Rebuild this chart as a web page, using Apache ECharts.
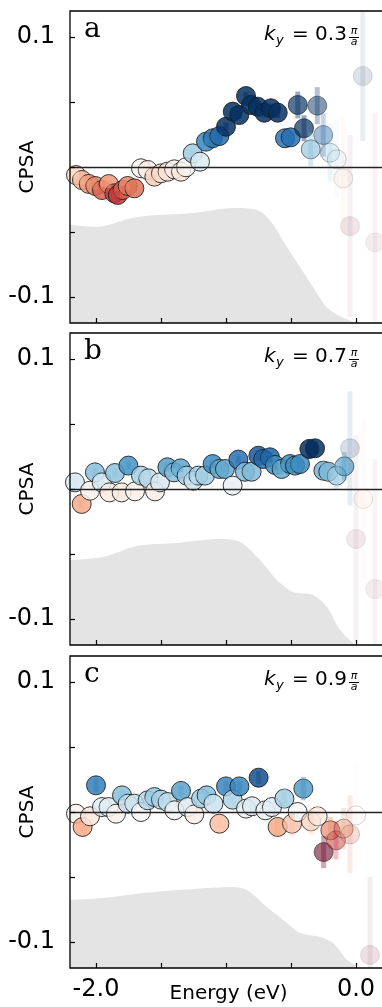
<!DOCTYPE html>
<html><head><meta charset="utf-8">
<script src="https://cdn.jsdelivr.net/npm/echarts@6/dist/echarts.min.js"></script>
<style>html,body{margin:0;padding:0;background:#fff;}#c{width:382px;height:1007px;}</style>
</head><body><div id="c"></div>
<script>
// ---- ticks / labels ----
const xTicks = [-2.0, -1.5, -1.0, -0.5, 0.0];
const xTickLabels = [-2.0, 0.0];
const yTicks = [-0.1, -0.05, 0, 0.05, 0.1];
const yTickLabels = [-0.1, 0.1];
const panelLetters = ['a', 'b', 'c'];
const kyValues = ['0.3', '0.7', '0.9'];

// ---- panel a ----
const energyA = [-2.154,-2.108,-2.056,-2.005,-1.954,-1.902,-1.859,-1.833,-1.795,-1.756,-1.705,
  -1.654,-1.602,-1.551,-1.5,-1.449,-1.398,-1.346,-1.308,
  -1.256,-1.2,-1.154,-1.102,-1.051,-1.0,-0.948,-0.898,-0.846,-0.808,-0.756,-0.705,-0.654,-0.602,
  -0.546,-0.502,-0.448,-0.4,-0.348,-0.298,-0.252,-0.2,-0.148,-0.098,-0.046,0.052,0.146];
const valueA = [-0.0062,-0.010,-0.013,-0.0146,-0.0177,-0.0131,-0.0202,-0.0215,-0.0177,-0.0146,-0.0164,
  -0.001,-0.0023,-0.0074,-0.0049,-0.0036,-0.0018,-0.0036,-0.0002,
  0.0105,0.0041,0.0195,0.0221,0.0238,0.031,0.0426,0.040,0.0546,0.0477,0.0464,0.0418,0.0452,0.0418,
  0.0221,0.0228,0.0477,0.0298,0.0136,0.0472,0.0246,0.011,0.0059,-0.0087,-0.0454,0.07,-0.058];
const errA = [0.003,0.003,0.003,0.003,0.003,0.003,0.003,0.003,0.003,0.003,0.003,
  0.003,0.003,0.003,0.003,0.003,0.003,0.003,0.003,
  0.003,0.003,0.003,0.003,0.003,0.003,0.003,0.003,0.003,0.003,0.003,0.0035,0.0035,0.004,
  0.005,0.005,0.0103,0.01,0.0128,0.0143,0.0167,0.022,0.03,0.046,0.07,0.05,0.1];
const dosEnergyA = [-2.2,-1.99,-1.685,-1.254,-0.946,-0.762,-0.662,-0.531,-0.431,-0.331,-0.223,-0.1,-0.023,0.0,0.24];
const dosValueA = [-0.0446,-0.046,-0.0385,-0.0354,-0.0315,-0.033,-0.041,-0.0615,-0.077,-0.0923,-0.108,-0.116,-0.119,-0.12,-0.12];

// ---- panel b ----
const energyB = [-2.162,-2.11,-2.046,-2.008,-1.956,-1.897,-1.854,-1.803,-1.751,-1.7,-1.654,-1.597,-1.546,-1.508,
  -1.451,-1.4,-1.349,-1.303,-1.251,-1.213,-1.162,-1.103,-1.051,-1.008,-0.949,-0.905,-0.854,-0.803,
  -0.751,-0.713,-0.662,-0.623,-0.572,-0.508,-0.469,-0.431,-0.359,-0.315,-0.251,-0.213,-0.149,-0.09,
  -0.046,0.056,0.0,0.146];
const valueB = [0.0051,-0.0115,-0.0013,0.0128,0.0051,-0.0026,0.0123,-0.0026,0.018,-0.0018,0.0103,0.0082,-0.0018,0.0051,
  0.0167,0.0128,0.0159,0.0103,0.0064,0.0103,0.0103,0.0192,0.0154,0.0154,0.0026,0.0226,0.0133,0.0133,
  0.0256,0.0231,0.0244,0.0185,0.0154,0.0192,0.018,0.0192,0.0308,0.0313,0.0141,0.0133,0.0103,0.0174,
  0.0313,-0.0077,-0.0385,-0.077];
const errB = [0.003,0.003,0.003,0.003,0.003,0.003,0.003,0.003,0.003,0.003,0.003,0.003,0.003,0.003,
  0.003,0.003,0.003,0.003,0.003,0.003,0.003,0.003,0.003,0.003,0.003,0.003,0.003,0.003,
  0.004,0.004,0.004,0.004,0.004,0.004,0.004,0.004,0.0075,0.005,0.007,0.007,0.01,0.011,
  0.044,0.06,0.08,0.1];
const dosEnergyB = [-2.2,-1.946,-1.685,-1.377,-1.046,-0.892,-0.738,-0.608,-0.485,-0.331,-0.223,-0.123,-0.023,0.0,0.24];
const dosValueB = [-0.0546,-0.0523,-0.0438,-0.0415,-0.0385,-0.0408,-0.0546,-0.07,-0.0792,-0.0815,-0.0908,-0.1085,-0.1185,-0.12,-0.12];

// ---- panel c ----
const energyC = [-2.154,-2.103,-2.046,-2.0,-1.954,-1.903,-1.846,-1.8,-1.756,-1.705,-1.654,-1.603,-1.551,-1.5,-1.449,
  -1.397,-1.346,-1.295,-1.244,-1.192,-1.149,-1.097,-1.051,-1.0,-0.949,-0.897,-0.846,-0.8,-0.749,-0.697,
  -0.646,-0.603,-0.551,-0.492,-0.449,-0.405,-0.346,-0.295,-0.249,-0.197,-0.154,-0.095,-0.046,0.0,0.108];
const valueC = [-0.0013,-0.0115,-0.0033,0.0205,0.0038,0.0038,-0.0013,0.0128,0.0064,0.0064,0.0,0.009,0.0115,0.0095,0.0077,
  0.0013,0.0162,0.0038,-0.0018,0.0103,0.0128,0.0064,-0.009,0.0197,0.0095,0.0197,0.0026,0.0044,0.0264,0.0013,
  0.0038,-0.0115,0.0103,-0.009,0.0,0.018,-0.0072,-0.0033,-0.0308,-0.0141,-0.0218,-0.0128,-0.0172,-0.0026,-0.11];
const errC = [0.003,0.003,0.003,0.005,0.003,0.003,0.003,0.004,0.003,0.003,0.003,0.003,0.003,0.003,0.003,
  0.003,0.004,0.003,0.003,0.003,0.003,0.003,0.003,0.004,0.003,0.004,0.003,0.003,0.005,0.003,
  0.003,0.007,0.008,0.009,0.006,0.009,0.01,0.009,0.0124,0.01,0.0147,0.016,0.03,0.04,0.06];
const dosEnergyC = [-2.2,-1.946,-1.638,-1.254,-0.946,-0.838,-0.685,-0.531,-0.431,-0.277,-0.177,-0.069,-0.008,0.0,0.24];
const dosValueC = [-0.0677,-0.0662,-0.0623,-0.0592,-0.0577,-0.06,-0.0731,-0.0854,-0.0931,-0.0962,-0.1008,-0.1138,-0.1177,-0.12,-0.12];

// ---- helpers ----
const RDBU = ['#67001f','#b2182b','#d6604d','#f4a582','#fddbc7','#f7f7f7','#d1e5f0','#92c5de','#4393c3','#2166ac','#053061'];
function hex2rgb(h){return [parseInt(h.substr(1,2),16),parseInt(h.substr(3,2),16),parseInt(h.substr(5,2),16)];}
function rdbu(v){
  let t = (v + 0.03) / 0.06; t = Math.max(0, Math.min(1, t));
  const p = t * 10, i = Math.min(9, Math.floor(p)), f = p - i;
  const a = hex2rgb(RDBU[i]), b = hex2rgb(RDBU[i+1]);
  const c = a.map((x, k) => Math.round(x + (b[k] - x) * f));
  return 'rgb(' + c.join(',') + ')';
}
function alphaOf(err){ return Math.min(0.85, 0.007 / err); }

const panels = [
  {E: energyA, V: valueA, S: errA, dE: dosEnergyA, dV: dosValueA},
  {E: energyB, V: valueB, S: errB, dE: dosEnergyB, dV: dosValueB},
  {E: energyC, V: valueC, S: errC, dE: dosEnergyC, dV: dosValueC}
];
const tops = [11, 333, 656];
const FONT = '"DejaVu Sans", sans-serif';

const grid = [], xAxis = [], yAxis = [], series = [], graphic = [];
panels.forEach((p, i) => {
  grid.push({left: 70, top: tops[i], width: 317.2, height: 312, containLabel: false, outerBoundsMode: 'none',
    show: true, borderColor: '#000', borderWidth: 1.3, backgroundColor: 'transparent', z: 6});
  const last = i === 2;
  xAxis.push({
    type: 'value', gridIndex: i, min: -2.2, max: 0.24, z: 6,
    axisLine: {show: false, onZero: false},
    axisTick: {show: true, inside: true, length: 5, customValues: xTicks, lineStyle: {color: '#000', width: 1.2}},
    axisLabel: {show: last, customValues: xTickLabels, formatter: v => Number(v).toFixed(1), fontSize: 24, color: '#000', fontFamily: FONT, margin: 10},
    splitLine: {show: false},
    name: last ? 'Energy (eV)' : '', nameLocation: 'middle', nameGap: 16, nameMoveOverlap: false,
    nameTextStyle: {fontSize: 20, color: '#000', fontFamily: FONT, verticalAlign: 'top'}
  });
  yAxis.push({
    type: 'value', gridIndex: i, min: -0.12, max: 0.12, z: 6,
    axisLine: {show: false, onZero: false},
    axisTick: {show: true, inside: true, length: 5, customValues: yTicks, lineStyle: {color: '#000', width: 1.2}},
    axisLabel: {show: true, customValues: yTickLabels, formatter: v => String(Math.round(v * 10) / 10), fontSize: 24, color: '#000', fontFamily: FONT, margin: 15},
    splitLine: {show: false},
    name: 'CPSA', nameLocation: 'middle', nameGap: 32, nameRotate: 90, nameMoveOverlap: false,
    nameTextStyle: {fontSize: 20, color: '#000', fontFamily: FONT}
  });
  // gray intensity area
  series.push({
    type: 'line', xAxisIndex: i, yAxisIndex: i, z: 1, silent: true,
    data: p.dE.map((e, k) => [e, p.dV[k]]),
    symbol: 'none', lineStyle: {width: 0}, smooth: 0.3,
    areaStyle: {color: '#e4e4e4', opacity: 1, origin: 'start'}
  });
  // points
  series.push({
    type: 'scatter', xAxisIndex: i, yAxisIndex: i, z: 2, symbolSize: 19, clip: true,
    data: p.E.map((e, k) => ({value: [e, p.V[k]], itemStyle: {color: rdbu(p.V[k]), opacity: alphaOf(p.S[k])}})),
    itemStyle: {borderColor: '#1a1a1a', borderWidth: 1}
  });
  // error bars
  series.push({
    type: 'custom', xAxisIndex: i, yAxisIndex: i, z: 3, clip: true, silent: true,
    data: p.E.map((e, k) => [e, p.V[k], p.S[k]]),
    encode: {x: 0, y: 1},
    renderItem: function (params, api) {
      const x = api.value(0), y = api.value(1), s = api.value(2);
      const p1 = api.coord([x, y + s]), p2 = api.coord([x, y - s]);
      return {type: 'rect', shape: {x: p1[0] - 2.5, y: p1[1], width: 5, height: p2[1] - p1[1]},
        style: {fill: rdbu(y), opacity: alphaOf(s) * 0.6}};
    }
  });
  // zero line on top
  series.push({
    type: 'scatter', xAxisIndex: i, yAxisIndex: i, z: 4, silent: true, data: [],
    markLine: {silent: true, symbol: 'none', label: {show: false}, animation: false,
      lineStyle: {color: '#222', width: 1.3, type: 'solid'}, data: [{yAxis: 0}]}
  });

  const off = tops[i] - 11;
  graphic.push({type: 'text', x: 84, y: 30 + off, style: {text: panelLetters[i], font: '28px "DejaVu Serif", serif', fill: '#000', verticalAlign: 'middle'}});
  graphic.push({type: 'group', x: 0, y: off, children: [
    {type: 'text', x: 264, y: 35, style: {text: 'k', font: 'italic 20px "DejaVu Sans"', fill: '#000', verticalAlign: 'middle'}},
    {type: 'text', x: 276, y: 41, style: {text: 'y', font: 'italic 13px "DejaVu Sans"', fill: '#000', verticalAlign: 'middle'}},
    {type: 'text', x: 292, y: 35, style: {text: '= ' + kyValues[i], font: '20px "DejaVu Sans"', fill: '#000', verticalAlign: 'middle'}},
    {type: 'text', x: 354, y: 31, style: {text: 'π', font: 'italic 11px "DejaVu Sans"', fill: '#000', align: 'center', verticalAlign: 'middle'}},
    {type: 'line', shape: {x1: 349, y1: 37.5, x2: 359, y2: 37.5}, style: {stroke: '#000', lineWidth: 1}},
    {type: 'text', x: 354, y: 42.5, style: {text: 'a', font: 'italic 11px "DejaVu Sans"', fill: '#000', align: 'center', verticalAlign: 'middle'}}
  ]});
});

const chart = echarts.init(document.getElementById('c'), null, {renderer: 'canvas'});
chart.setOption({animation: false, backgroundColor: '#fff', grid, xAxis, yAxis, series, graphic});
</script>
</body></html>
